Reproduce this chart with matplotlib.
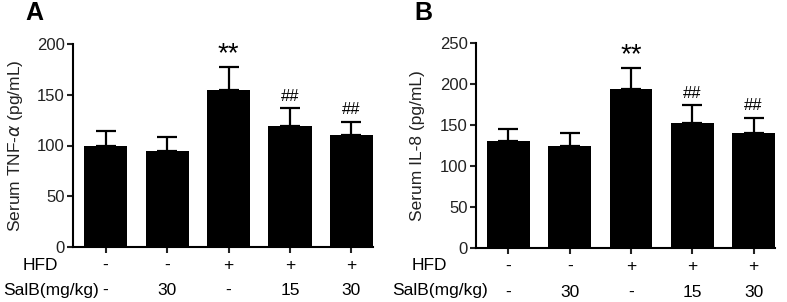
import matplotlib
matplotlib.use("Agg")
import matplotlib.pyplot as plt
import numpy as np

plt.rcParams["font.family"] = ["Liberation Sans", "DejaVu Sans"]

groups = ["ctrl", "salb30", "hfd", "hfd_salb15", "hfd_salb30"]
hfd_row = ["-", "-", "+", "+", "+"]
salb_row = ["-", "30", "-", "15", "30"]

tnf_mean = [100, 95, 155, 119, 110]
tnf_sem = [14, 13.5, 22, 18, 13.5]
il8_mean = [130, 124, 194, 152, 140]
il8_sem = [15, 16, 25, 22, 19]

marks = ["", "", "**", "##", "##"]


def draw_panel(ax, mean, sem, ymax, ystep, ylabel, letter, fig_left, lab_x):
    x = np.arange(len(mean))
    ax.bar(x, mean, width=0.7, color="black", zorder=2)
    ax.errorbar(x, mean, yerr=[np.zeros(len(sem)), sem], fmt="none",
                ecolor="black", elinewidth=1.6, capsize=7.5, capthick=1.6, zorder=1)
    ax.set_xlim(-0.53, 4.35)
    ax.set_ylim(0, ymax)
    ax.set_yticks(np.arange(0, ymax + 1, ystep))
    ax.set_xticks(x)
    ax.set_xticklabels([])
    for s in ["top", "right"]:
        ax.spines[s].set_visible(False)
    for s in ["left", "bottom"]:
        ax.spines[s].set_linewidth(1.5)
    ax.tick_params(axis="both", direction="out", length=4, width=1.5,
                   labelsize=12, colors="#222222", pad=2)
    ax.set_ylabel(ylabel, fontsize=12.5, color="#222222")
    ax.yaxis.set_label_coords(lab_x, 0.5)

    for xi, m, s, t in zip(x, mean, sem, marks):
        if t == "**":
            ax.annotate(t, (xi, m + s), xytext=(0, 0), textcoords="offset points",
                        ha="center", va="bottom", fontsize=20)
        elif t:
            ax.annotate(t, (xi, m + s), xytext=(0, 3), textcoords="offset points",
                        ha="center", va="bottom", fontsize=12)

    tr = ax.get_xaxis_transform()
    for xi, h, sb in zip(x, hfd_row, salb_row):
        ax.text(xi, -0.09, h, transform=tr, ha="center", va="center", fontsize=12.5)
        ax.text(xi, -0.215, sb, transform=tr, ha="center", va="center", fontsize=12.5)
    fig = ax.figure
    W, H = fig.get_size_inches() * fig.dpi
    fig.text((fig_left + 20) / W, 1 - 265 / H, "HFD", ha="left", va="center", fontsize=12.5)
    fig.text(fig_left / W, 1 - 291 / H, "SalB(mg/kg)", ha="left", va="center", fontsize=12.5)
    fig.text((fig_left + 22) / W, 1 - 13 / H, letter, ha="left", va="center",
             fontsize=18, fontweight="bold")


fig = plt.figure(figsize=(7.87, 3.02), dpi=100)
W, H = 787, 302
axA = fig.add_axes([73 / W, 1 - 247 / H, 300 / W, 203 / H])
axB = fig.add_axes([476 / W, 1 - 248.3 / H, 299 / W, 205.6 / H])

draw_panel(axA, tnf_mean, tnf_sem, 200, 50, r"Serum TNF-$\alpha$ (pg/mL)", "A", 3, -0.16)
draw_panel(axB, il8_mean, il8_sem, 250, 50, "Serum IL-8 (pg/mL)", "B", 392, -0.17)

fig.savefig("out.png", dpi=100)
